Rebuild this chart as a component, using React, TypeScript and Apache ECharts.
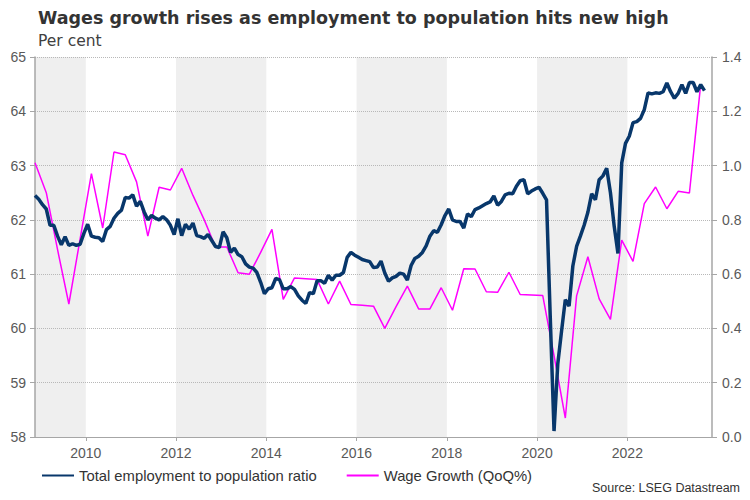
import React, { useEffect, useRef } from "react";
import * as echarts from "echarts";

const TITLE = "Wages growth rises as employment to population hits new high";
const SUBTITLE = "Per cent";
const SOURCE = "Source: LSEG Datastream";
const SERIES_NAMES = ["Total employment to population ratio", "Wage Growth (QoQ%)"];

// Monthly employment-to-population ratio, Nov 2008 .. Sep 2023
const EMP_START_YEAR = 2008;
const EMP_START_MONTH = 10; // 0-based: November
const employment = [
  62.45, 62.38,
  62.28, 62.2, 61.9, 61.9, 61.7, 61.54, 61.69, 61.53, 61.56, 61.53, 61.55, 61.75,
  61.92, 61.7, 61.68, 61.67, 61.6, 61.82, 61.88, 62.03, 62.12, 62.18, 62.41, 62.4,
  62.46, 62.25, 62.34, 62.15, 62.0, 62.08, 62.03, 62.0, 62.06, 62.0, 61.9, 61.73,
  62.02, 61.71, 61.92, 61.83, 61.94, 61.71, 61.69, 61.66, 61.73, 61.62, 61.51, 61.49,
  61.78, 61.67, 61.4, 61.48, 61.36, 61.32, 61.19, 61.13, 61.11, 61.03, 60.85, 60.64,
  60.73, 60.75, 60.92, 60.9, 60.73, 60.73, 60.77, 60.72, 60.6, 60.52, 60.46, 60.66,
  60.64, 60.88, 60.88, 60.83, 60.98, 60.89, 60.98, 60.98, 61.03, 61.31, 61.4, 61.35,
  61.31, 61.27, 61.25, 61.23, 61.12, 61.13, 61.24, 61.02, 60.87, 60.93, 60.96, 61.02,
  61.0, 60.89, 61.16, 61.29, 61.33, 61.4, 61.52, 61.7, 61.8, 61.77, 61.91, 62.08,
  62.2, 62.0, 61.97, 61.97, 61.85, 62.11, 62.06, 62.19, 62.22, 62.26, 62.3, 62.33,
  62.44, 62.27, 62.34, 62.46, 62.49, 62.48, 62.62, 62.72, 62.74, 62.48, 62.53, 62.57,
  62.6, 62.49, 62.37, 60.2, 58.11, 59.35, 59.95, 60.53, 60.41, 61.15, 61.51, 61.7,
  61.9, 62.14, 62.48, 62.37, 62.74, 62.81, 62.95, 62.5, 61.88, 61.38, 63.05, 63.41,
  63.54, 63.79, 63.81, 63.87, 64.03, 64.34, 64.32, 64.34, 64.33, 64.36, 64.52, 64.36,
  64.24, 64.33, 64.49, 64.33, 64.53, 64.53, 64.36, 64.49, 64.38,
];

// Quarterly wage growth (QoQ %), Nov 2008 .. Aug 2023 (mid-quarter timing)
const WAGE_START = 2008.875;
const wages = [
  1.01,
  0.9, 0.69, 0.49, 0.73,
  0.97, 0.77, 1.05, 1.04,
  0.94, 0.74, 0.92, 0.91,
  0.99, 0.89, 0.8, 0.7,
  0.7, 0.605, 0.6, 0.68,
  0.765, 0.507, 0.586, 0.583,
  0.58, 0.49, 0.574, 0.488,
  0.485, 0.482, 0.4, 0.48,
  0.556, 0.472, 0.472, 0.55,
  0.467, 0.62, 0.619, 0.535,
  0.533, 0.607, 0.525, 0.523,
  0.521, 0.3, 0.07, 0.52,
  0.664, 0.509, 0.433, 0.725,
  0.647, 0.86, 0.921, 0.841,
  0.905, 0.899, 1.3,
];

const X_MIN = 2008.875;
const X_MAX = 2023.875;
const yearTicks = [2010, 2012, 2014, 2016, 2018, 2020, 2022];
const shadedBands = [
  [2008.875, 2010],
  [2012, 2014],
  [2016, 2018],
  [2020, 2022],
];
const leftTicks = { min: 58, max: 65, interval: 1 };
const rightTicks = { min: 0, max: 1.4, interval: 0.2 };

const FONT = "'Liberation Sans', Arial, sans-serif";
const TITLE_FONT = "'DejaVu Sans', 'Liberation Sans', sans-serif";

export default function App() {
  const ref = useRef<HTMLDivElement>(null);

  useEffect(() => {
    document.body.style.margin = "0";
    if (!ref.current) return;
    const chart = echarts.init(ref.current, undefined, { renderer: "svg" });

    const empData = employment.map((v, i) => [
      EMP_START_YEAR + (EMP_START_MONTH + i + 0.5) / 12,
      v,
    ]);
    const wageData = wages.map((v, i) => [WAGE_START + i * 0.25, v]);

    const option: any = {
      animation: false,
      backgroundColor: "#ffffff",
      textStyle: { fontFamily: FONT },
      title: [
        {
          text: TITLE,
          left: 33,
          top: 4,
          textStyle: { fontFamily: TITLE_FONT, fontSize: 17.5, fontWeight: "bold", color: "#333333" },
        },
        {
          text: SUBTITLE,
          left: 33,
          top: 28,
          textStyle: { fontFamily: TITLE_FONT, fontSize: 15.5, fontWeight: "normal", color: "#404040" },
        },
        {
          text: SOURCE,
          right: 5,
          bottom: 1,
          textStyle: { fontFamily: FONT, fontSize: 12.5, fontWeight: "normal", color: "#333333" },
        },
      ],
      legend: {
        data: SERIES_NAMES,
        left: 36,
        top: 463,
        itemWidth: 32,
        itemHeight: 14,
        itemGap: 29,
        itemStyle: { opacity: 0 },
        textStyle: { fontFamily: FONT, fontSize: 14.8, color: "#333333" },
      },
      grid: { left: 35, right: 38, top: 57, bottom: 63, containLabel: false },
      xAxis: {
        type: "value",
        min: X_MIN,
        max: X_MAX,
        axisLine: { show: true, lineStyle: { color: "#a6a6a6", width: 1 } },
        axisTick: {
          show: true,
          customValues: yearTicks,
          length: 4,
          lineStyle: { color: "#a6a6a6" },
        },
        splitLine: { show: false },
        axisLabel: {
          customValues: yearTicks,
          formatter: (v: number) => String(Math.round(v)),
          color: "#595959",
          fontSize: 14,
          fontFamily: FONT,
          margin: 9,
        },
      },
      yAxis: [
        {
          type: "value",
          position: "left",
          ...leftTicks,
          axisLine: { show: true, lineStyle: { color: "#a6a6a6", width: 1.5 } },
          axisTick: { show: true, length: 5, lineStyle: { color: "#a6a6a6" } },
          splitLine: { show: true, lineStyle: { color: "#b8b8b8", type: "dotted", width: 1 } },
          axisLabel: { color: "#595959", fontSize: 14, fontFamily: FONT, margin: 9 },
        },
        {
          type: "value",
          position: "right",
          ...rightTicks,
          axisLine: { show: true, lineStyle: { color: "#a6a6a6", width: 1.5 } },
          axisTick: { show: true, length: 5, lineStyle: { color: "#a6a6a6" } },
          splitLine: { show: false },
          axisLabel: {
            color: "#595959",
            fontSize: 14,
            fontFamily: FONT,
            margin: 10,
            formatter: (v: number) => v.toFixed(1),
          },
        },
      ],
      series: [
        {
          type: "custom",
          name: "bands",
          z: -1,
          silent: true,
          xAxisIndex: 0,
          yAxisIndex: 0,
          clip: true,
          encode: { x: [0, 1] },
          data: shadedBands,
          renderItem: (params: any, api: any) => {
            const p0 = api.coord([api.value(0), leftTicks.max]);
            const p1 = api.coord([api.value(1), leftTicks.min]);
            return {
              type: "rect",
              shape: { x: p0[0], y: p0[1], width: p1[0] - p0[0], height: p1[1] - p0[1] },
              style: { fill: "#efefef" },
            };
          },
        },
        {
          type: "line",
          name: SERIES_NAMES[0],
          yAxisIndex: 0,
          data: empData,
          showSymbol: false,
          symbol: "none",
          lineStyle: { color: "#08376b", width: 3.5 },
          itemStyle: { color: "#08376b" },
          z: 4,
        },
        {
          type: "line",
          name: SERIES_NAMES[1],
          yAxisIndex: 1,
          data: wageData,
          showSymbol: false,
          symbol: "none",
          lineStyle: { color: "#ff00ff", width: 1.5 },
          itemStyle: { color: "#ff00ff" },
          z: 3,
        },
      ],
    };

    chart.setOption(option);
    return () => chart.dispose();
  }, []);

  return <div ref={ref} style={{ width: 750, height: 500 }} />;
}
